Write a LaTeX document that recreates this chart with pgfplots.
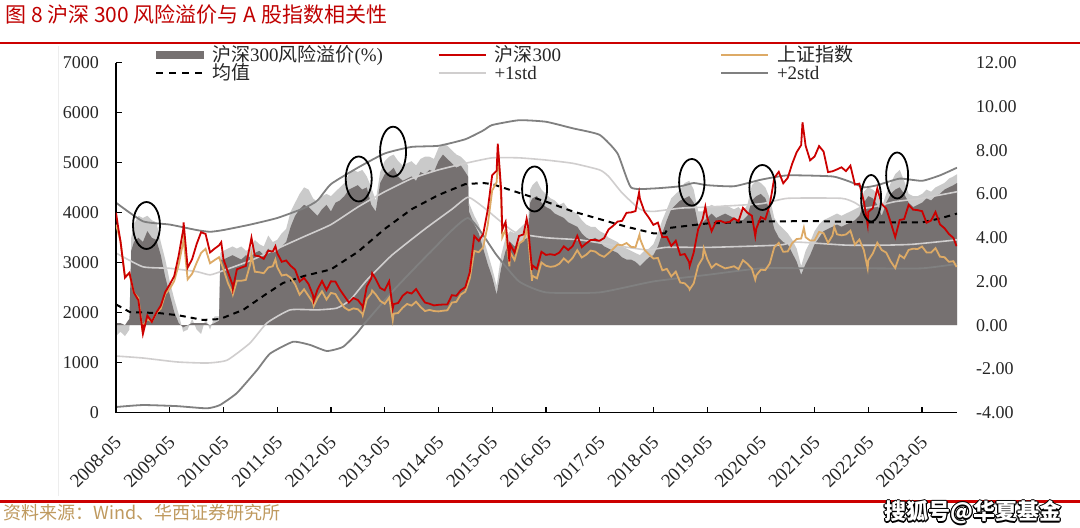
\documentclass[border=0pt]{standalone}
\usepackage{fontspec}
\setmainfont{Liberation Serif}
\newfontfamily\cjk{Noto Sans CJK SC}
\usepackage{pgfplots}
\usepackage{pgfplotstable}
\pgfplotsset{compat=1.18}
\definecolor{areaDark}{HTML}{767171}
\definecolor{areaLight}{HTML}{CACACA}
\definecolor{stdone}{HTML}{D0CECE}
\definecolor{stdtwo}{HTML}{808080}
\definecolor{hsred}{HTML}{CC0000}
\definecolor{shtan}{HTML}{DDAA66}
\definecolor{titlered}{HTML}{C00000}
\definecolor{rulered}{HTML}{CC0000}
\definecolor{srctan}{HTML}{BF9A5F}
\pgfplotsset{
  mylineleg/.style={legend image code/.code={\draw[##1] (0pt,0pt) -- (23.5pt,0pt);}},
  myarealeg/.style={legend image code/.code={\fill[areaDark] (0pt,-1.8pt) rectangle (23.5pt,1.8pt);}},
}
\pgfplotstableread{
m dark light
0 0.1 -0.5
1 0.1 -0.3
2 0.0 -0.5
3 0.3 -0.2
3.4 3.4 4.0
4 3.8 4.6
5 4.0 5.0
6 3.8 4.9
7 4.3 5.0
8 4.0 4.8
9 3.9 4.7
10 3.2 3.8
11 2.2 3.0
12 1.4 2.0
13 0.6 1.2
14 0.1 0.5
15 -0.1 -0.3
16 0.0 -0.2
17 0.1 0.3
18 0.1 -0.2
19 0.1 -0.4
20 0.1 0.3
21 0.0 -0.2
22 0.1 0.4
23 0.2 0.4
23.3 3.0 3.3
24 3.0 3.4
25 3.1 3.5
26 3.2 3.6
27 3.1 3.5
28 3.0 3.6
29 3.2 3.4
30 3.1 3.5
31 3.3 3.9
32 3.4 3.7
33 3.2 3.6
34 3.5 4.1
35 3.3 3.8
36 3.4 3.9
37 3.6 4.2
38 3.8 4.4
39 4.5 5.2
40 5.0 5.6
41 5.3 6.0
42 5.5 6.3
43 5.4 6.2
44 5.2 5.8
45 5.0 5.6
46 5.3 5.9
47 5.5 6.0
48 5.2 5.9
49 5.6 6.1
50 5.7 6.3
51 5.9 6.5
52 6.2 6.9
53 6.3 7.1
54 6.4 7.0
55 6.2 7.1
56 6.3 6.8
57 5.5 6.3
58 5.2 5.7
59 6.5 7.0
60 6.9 7.5
61 7.0 7.7
62 7.2 7.8
63 6.8 7.5
64 6.6 7.3
65 6.7 7.4
66 6.8 7.5
67 6.6 7.3
68 7.0 7.6
69 6.9 7.7
70 7.1 7.7
71 7.0 7.6
72 7.5 8.1
73 7.8 8.3
74 7.6 8.2
75 7.4 8.0
76 7.2 7.8
77 7.3 7.7
78 7.0 7.5
78.6 6.8 7.3
78.8 5.2 5.6
80 4.6 5.0
81 4.2 4.6
82 3.5 4.0
83 2.8 3.3
84 2.2 2.6
85 1.4 1.8
86 2.6 3.2
87 3.4 4.0
88 3.8 4.3
89 3.6 4.2
90 3.7 4.4
91 3.9 4.6
92 4.0 4.7
92.5 5.6 6.2
93 5.8 6.4
94 5.9 6.6
95 5.6 6.2
96 5.4 6.0
97 5.3 5.8
98 5.1 5.7
99 5.0 5.5
100 4.9 5.6
101 4.7 5.3
102 4.6 5.2
103 4.5 5.1
104 4.2 4.8
105 4.0 4.6
106 3.9 4.5
107 4.0 4.5
108 3.8 4.3
109 3.6 4.2
110 3.5 4.0
111 3.4 3.9
112 3.3 3.8
113 3.1 3.6
114 3.0 3.5
115 3.0 3.4
116 2.9 3.3
117 2.7 3.2
118 2.9 3.4
119 3.1 3.5
120 3.2 3.7
121 3.6 4.2
122 4.2 4.8
123 4.8 5.3
124 5.3 5.8
125 5.5 6.0
126 5.7 6.2
127 5.8 6.5
128 5.9 6.6
129 5.6 6.2
130 4.6 5.2
131 4.7 5.2
132 4.9 5.4
133 5.1 5.5
134 4.9 5.4
135 5.0 5.4
136 5.1 5.5
137 5.0 5.4
138 4.9 5.3
139 4.8 5.4
140 4.8 5.2
141 5.0 5.5
142 5.7 6.4
143 5.9 6.6
144 6.0 6.5
145 5.8 6.3
146 5.2 5.8
147 4.4 4.9
148 4.0 4.6
149 3.8 4.4
150 3.7 4.2
151 3.3 3.9
152 2.9 3.5
153 2.3 2.7
154 2.8 3.4
155 3.2 3.8
156 3.7 4.3
157 4.0 4.6
158 4.3 4.8
159 4.4 4.9
160 4.5 5.0
161 4.6 5.1
162 4.5 5.0
163 4.6 5.1
164 4.7 5.2
165 4.8 5.3
166 5.0 5.4
167 5.6 6.1
168 5.9 6.3
169 5.8 6.2
170 5.5 6.0
171 5.0 5.4
172 5.6 6.0
173 6.0 6.5
174 6.2 6.9
175 6.3 7.1
176 6.0 6.6
177 5.6 6.0
178 5.4 5.9
179 5.5 5.9
180 5.6 6.0
181 5.8 6.2
182 5.7 6.1
183 5.9 6.3
184 6.0 6.4
185 6.2 6.5
186 6.3 6.7
187 6.4 6.8
187.8 6.5 6.9
}\areatab
\pgfplotstableread{
m v
0 4000
0.5 3700
1 3430
2 2700
3 2800
4 2400
5 2250
5.9 1650
6 1760
6.1 1607
7 1943
8 1817
9 2000
10 2141
11 2415
12 2565
13 2730
14 3144
15 3656
15.1 3803
16 2901
17 3070
18 3370
19 3610
20 3575
21 3205
22 3280
23 3345
23.5 3410
24 3068
25 2812
26 2563
26.1 2480
27 2868
28 2903
29 2935
30 3380
30.25 3500
31 3143
32 3128
33 3077
34 3239
35 3223
35.6 3330
36 3194
37 3018
38 3044
39 2938
40 2861
41 2622
42 2696
43 2572
44 2346
44.15 2240
45 2464
46 2634
47 2455
48 2627
49 2622
50 2462
51 2333
52 2204
53 2293
54 2254
55 2140
55.1 2102
56 2522
57 2687
57.2 2790
58 2673
59 2495
60 2447
61 2627
61.8 2086
62 2172
63 2194
64 2338
65 2410
66 2384
67 2474
68 2331
69 2203
70 2179
71 2146
72 2157
73 2163
74 2165
75 2350
76 2338
77 2451
78 2509
79 2808
80 3534
81 3435
82 3572
83 4051
84 4749
85 4841
85.25 5380
86 4473
86.25 3660
87 3816
87.85 3025
88 3366
89 3203
90 3534
91 3566
91.7 3880
92 3731
92.9 2853
93 2946
94 2877
95 3218
96 3156
97 3169
98 3154
99 3203
100 3327
101 3253
102 3336
103 3538
104 3311
105 3387
106 3452
107 3456
108 3439
109 3493
110 3666
111 3737
112 3822
113 3837
114 3998
115 4006
116 4031
116.8 4403
117 4275
118 4023
119 3899
120 3756
121 3802
122 3510
123 3517
124 3335
125 3439
126 3154
127 3173
128 3011
128.1 2935
129 3202
130 3670
131 3872
131.6 4120
132 3913
133 3630
134 3826
135 3836
136 3799
137 3814
138 3887
139 3828
140 4097
141 3999
142 3940
142.75 3530
143 3686
144 3912
145 3868
146 4164
147 4696
148 4817
149 4588
150 4696
151 4980
152 5211
153 5352
153.3 5807
154 5336
155 5048
156 5124
157 5332
158 5224
159 4812
160 4828
161 4866
162 4908
163 4832
164 4940
165 4564
166 4581
167 4223
167.85 3757
168 4016
169 4091
170 4485
171 4170
172 4079
173 3805
174 3509
175 3854
176 3872
177 4157
178 4061
179 4051
180 4030
181 3798
182 3842
183 4014
184 3765
185 3690
186 3573
187 3496
187.7 3330
}\hstab
\pgfplotstableread{
m v
0 3760
0.5 3600
1 3433
2 2736
3 2775
4 2397
5 2293
5.9 1664
6 1729
7 1871
8 1821
9 1991
10 2082
11 2373
12 2477
13 2633
14 2959
15 3412
15.1 3478
16 2667
17 2779
18 2996
19 3195
20 3277
21 2989
22 3051
23 3110
24 2870
25 2592
26 2398
26.1 2363
27 2638
28 2639
29 2656
30 2979
30.25 3159
31 2820
32 2808
33 2790
34 2905
35 2928
35.6 3067
36 2911
37 2743
38 2762
39 2701
40 2567
41 2359
42 2469
43 2333
44 2199
44.15 2132
45 2292
46 2428
47 2263
48 2396
49 2373
50 2225
51 2103
52 2047
53 2086
54 2069
55 1980
55.1 1949
56 2269
57 2385
57.2 2444
58 2365
59 2237
60 2177
61 2301
61.8 1849
62 1979
63 1994
64 2098
65 2175
66 2141
67 2220
68 2116
69 2033
70 2056
71 2033
72 2026
73 2039
74 2048
75 2202
76 2217
77 2364
78 2420
79 2683
80 3235
81 3210
82 3310
83 3748
84 4442
85 4612
85.4 5178
86 4277
86.25 3507
87 3664
87.85 2927
88 3206
89 3053
90 3383
91 3445
91.7 3650
92 3539
92.9 2638
93 2738
94 2688
95 3004
96 2938
97 2917
98 2930
99 2979
100 3085
101 3005
102 3100
103 3250
104 3104
105 3159
106 3242
107 3223
108 3155
109 3117
110 3192
111 3273
112 3361
113 3349
114 3393
115 3317
116 3307
116.9 3559
117 3481
118 3259
119 3169
120 3082
121 3095
122 2847
123 2876
124 2725
125 2821
126 2603
127 2588
128 2494
128.1 2464
129 2585
130 2941
131 3091
131.25 3288
132 3078
133 2899
134 2979
135 2932
136 2886
137 2905
138 2929
139 2872
140 3050
141 2977
142 2880
142.75 2660
143 2750
144 2860
145 2852
146 2985
147 3310
148 3396
149 3218
150 3225
151 3392
152 3473
153 3483
153.6 3696
154 3509
155 3442
156 3447
157 3615
158 3591
159 3397
160 3544
160.4 3715
161 3568
162 3547
163 3564
164 3640
165 3361
166 3462
167 3252
167.85 2886
168 3047
169 3186
170 3399
171 3253
172 3202
173 3024
174 2893
175 3151
176 3089
177 3255
178 3280
179 3273
180 3323
181 3205
182 3202
183 3291
184 3120
185 3110
186 3018
187 3030
187.7 2914
}\shtab
\begin{document}
\begin{tikzpicture}[x=0.5pt,y=0.5pt]
\path[use as bounding box, fill=white] (0,0) rectangle (1080,528);
\fill[rulered] (0,483.6) rectangle (1080,486.4);
\fill[rulered] (0,25) rectangle (1080,28.2);
\draw[black!7, line width=0.5pt] (58.5,32) -- (58.5,482);
\node[anchor=base west, inner sep=0pt, text=titlered, font=\cjk\fontsize{10.5}{12}\selectfont] at (5,505.5) {图 8 沪深 300 风险溢价与 A 股指数相关性};
\node[anchor=base west, inner sep=0pt, text=srctan, font=\cjk\fontsize{9}{11}\selectfont] at (3.4,8.5) {资料来源：Wind、华西证券研究所};
% right axis: risk premium and bands
\begin{axis}[
  at={(58pt,57.65pt)}, anchor=south west, scale only axis,
  width=420.5pt, height=175pt,
  xmin=0, xmax=187.8, ymin=-4, ymax=12,
  axis x line=none, axis y line*=right, y axis line style={draw=none},
  ytick={-4,-2,...,12}, major tick length=0pt,
  /pgf/number format/assume math mode=true,
  yticklabel style={font=\fontsize{9}{10}\selectfont, text=black!85, xshift=6pt,
    /pgf/number format/.cd, fixed, fixed zerofill, precision=2, assume math mode=true},
]
\addplot[fill=areaLight, draw=none, forget plot] table[x=m,y=light]{\areatab} \closedcycle;
\addplot[fill=areaDark, draw=none, forget plot] table[x=m,y=dark]{\areatab} \closedcycle;
% -2std
\addplot[stdtwo, line width=0.9pt, smooth, tension=0.3, forget plot] coordinates {(0,-3.74) (6,-3.65) (13.6,-3.7) (20.3,-3.8) (23.2,-3.65) (27,-3.1) (31.5,-2.05) (34.4,-1.3) (39.5,-0.76) (43.3,-0.9) (47.1,-1.18) (50.7,-0.99) (53.8,-0.37) (55.6,0.1) (62,1.6) (70,3.3) (78.6,4.9) (85,3.2) (90,2.0) (96,1.5) (108,1.5) (120,2.0) (132,2.3) (144,2.6) (156,2.6) (168,2.6) (180,2.6) (187.8,2.8)};
% -1std
\addplot[stdone, line width=0.8pt, smooth, tension=0.3, forget plot] coordinates {(0,-1.41) (6,-1.5) (13.6,-1.68) (20.3,-1.73) (24.8,-1.6) (29.9,-0.82) (33.7,0.1) (38.9,0.7) (44.9,0.7) (49.3,0.78) (52.3,1.15) (56,2.06) (61.6,3.2) (69,4.4) (75,5.3) (78.6,5.85) (82,5.4) (89,4.26) (96,4.0) (103.6,3.9) (111,3.66) (118.6,3.44) (123,3.56) (133,3.56) (148,3.66) (152,3.8) (163,3.66) (172,3.66) (178,3.7) (187.8,3.9)};
% +1std
\addplot[stdone, line width=0.8pt, smooth, tension=0.3, forget plot] coordinates {(0,3.3) (6,2.67) (12,2.6) (18,2.45) (21,2.3) (24,2.5) (30,2.95) (36,3.5) (42,4.05) (48,4.6) (54,5.4) (60,6.1) (66,6.7) (72,7.1) (78,7.4) (84,7.65) (90,7.65) (96,7.55) (102,7.4) (108,7.1) (110,6.8) (113,6.05) (117,5.3) (120,5.2) (126,5.35) (132,5.4) (144,5.55) (150,5.8) (162,5.8) (165,5.6) (167,5.35) (170,5.45) (174,5.65) (180,5.8) (187.8,6.1)};
% +2std
\addplot[stdtwo, line width=0.9pt, smooth, tension=0.3, forget plot] coordinates {(0,5.6) (6,4.75) (12,4.6) (18,4.35) (21,4.27) (24,4.35) (30,4.6) (36,4.9) (42,5.35) (45,5.7) (48,6.45) (54,7.2) (60,7.85) (66,8.15) (72,8.2) (78,8.5) (82,8.9) (84,9.15) (90,9.37) (96,9.3) (102,9.0) (108,8.7) (112,7.85) (115,6.3) (120,6.25) (126,6.35) (129,6.5) (132,6.4) (138,6.35) (144,6.65) (150,6.85) (160,6.8) (164,6.55) (167,6.3) (170,6.4) (175,6.7) (180,6.6) (184,6.85) (187.8,7.2)};
% mean
\addplot[black, line width=1pt, dash pattern=on 3pt off 2.5pt, forget plot] coordinates {(0,0.95) (3.1,0.6) (9.8,0.55) (14,0.45) (19.4,0.24) (23.2,0.28) (28.4,0.7) (33,1.35) (37.3,1.93) (42,2.25) (48,2.55) (54,3.35) (60,4.4) (66,5.3) (72,5.95) (78,6.45) (82,6.5) (84,6.45) (90,6.05) (96,5.65) (102,5.2) (108,4.85) (114,4.5) (120,4.2) (122.6,4.2) (123.3,4.44) (132,4.65) (144,4.74) (156,4.76) (168,4.7) (180,4.7) (184,4.88) (187.8,5.1)};
\end{axis}
% left axis: indices
\begin{axis}[
  at={(58pt,57.65pt)}, anchor=south west, scale only axis,
  width=420.5pt, height=175pt,
  xmin=0, xmax=187.8, ymin=0, ymax=7000,
  axis x line*=bottom, axis y line*=left,
  axis line style={-, black, line width=0.8pt},
  tick align=inside, major tick length=2.8pt, tick style={black, line width=0.6pt},
  xtick={0,12,...,180},
  xticklabels={2008-05,2009-05,2010-05,2011-05,2012-05,2013-05,2014-05,2015-05,2016-05,2017-05,2018-05,2019-05,2020-05,2021-05,2022-05,2023-05},
  xticklabel style={font=\fontsize{9.5}{10}\selectfont, text=black!85, xshift=3.5pt, yshift=-11pt, rotate=45, anchor=east},
  ytick={0,1000,...,7000},
  /pgf/number format/assume math mode=true,
  yticklabel style={font=\fontsize{9}{10}\selectfont, text=black!85, xshift=-5pt,
    /pgf/number format/.cd, 1000 sep={}, assume math mode=true},
  legend columns=3, legend cell align=left,
  legend style={draw=none, fill=none, inner sep=0pt, outer sep=0pt,
    at={(0.0464,1.0486)}, anchor=north west,
    font=\fontsize{9.5}{11}\selectfont, text=black!85,
    nodes={inner sep=0pt, text height=8pt, text depth=1pt},
    /tikz/every odd column/.append style={column sep=4pt}},
]
\addlegendimage{myarealeg}
\addlegendentry{\makebox[112.75pt][l]{{\cjk 沪深}300{\cjk 风险溢价}(\%)}}
\addlegendimage{mylineleg, hsred, line width=1pt}
\addlegendentry{\makebox[112.75pt][l]{{\cjk 沪深}300}}
\addlegendimage{mylineleg, shtan, line width=1pt}
\addlegendentry{{\cjk 上证指数}}
\addlegendimage{mylineleg, black, line width=1pt, dash pattern=on 3.5pt off 3pt}
\addlegendentry{\makebox[112.75pt][l]{{\cjk 均值}}}
\addlegendimage{mylineleg, stdone, line width=1pt}
\addlegendentry{\makebox[112.75pt][l]{+1std}}
\addlegendimage{mylineleg, stdtwo, line width=1pt}
\addlegendentry{+2std}
\addplot[shtan, line width=0.9pt, forget plot] table[x=m,y=v]{\shtab};
\addplot[hsred, line width=0.9pt, forget plot] table[x=m,y=v]{\hstab};
\draw[black, line width=0.9pt] (axis cs:6.81,3744) ellipse [x radius=6.75pt, y radius=11.75pt];
\draw[black, line width=0.9pt] (axis cs:54.2,4674) ellipse [x radius=6.5pt, y radius=11.25pt];
\draw[black, line width=0.9pt] (axis cs:61.87,5220) ellipse [x radius=6.5pt, y radius=12.5pt];
\draw[black, line width=0.9pt] (axis cs:93.47,4474) ellipse [x radius=6.25pt, y radius=11.25pt];
\draw[black, line width=0.9pt] (axis cs:128.58,4608) ellipse [x radius=6.35pt, y radius=11.65pt];
\draw[black, line width=0.9pt] (axis cs:144.34,4504) ellipse [x radius=6.5pt, y radius=11.25pt];
\draw[black, line width=0.9pt] (axis cs:168.62,4288) ellipse [x radius=5pt, y radius=11.65pt];
\draw[black, line width=0.9pt] (axis cs:174.43,4744) ellipse [x radius=5.5pt, y radius=11.5pt];
\end{axis}
% watermark
\foreach \dx/\dy in {-1/0,1/0,0/-1,0/1,-0.7/-0.7,0.7/0.7,-0.7/0.7,0.7/-0.7} {
  \node[anchor=base west, inner sep=0pt, text=black, font=\cjk\bfseries\fontsize{11}{13}\selectfont] at (884+1.3*\dx,8+1.3*\dy) {搜狐号@华夏基金};
}
\node[anchor=base west, inner sep=0pt, text=white, font=\cjk\bfseries\fontsize{11}{13}\selectfont] at (884,8) {搜狐号@华夏基金};
\end{tikzpicture}
\end{document}
